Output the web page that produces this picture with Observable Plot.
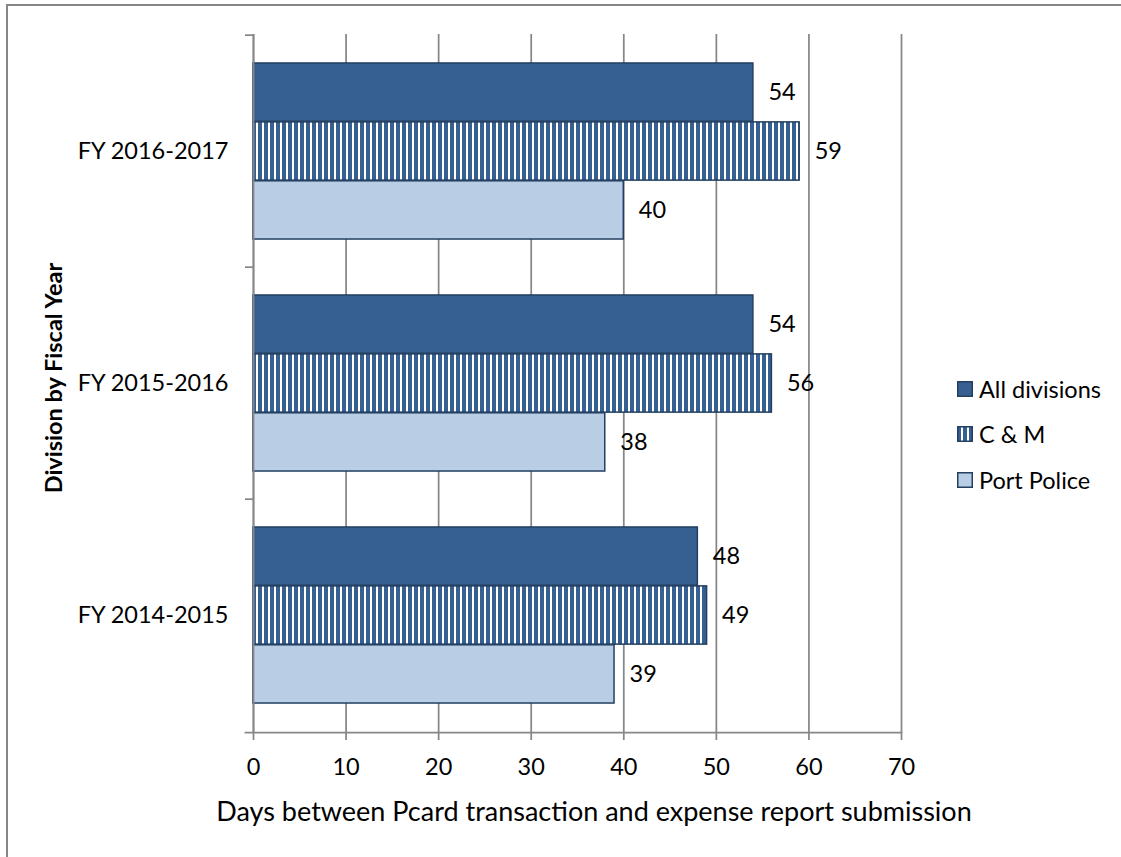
<!DOCTYPE html>
<html>
<head>
<meta charset="utf-8">
<script src="https://cdn.jsdelivr.net/npm/d3@7"></script>
<script src="https://cdn.jsdelivr.net/npm/@observablehq/plot@0.6"></script>
<style>
  html, body { margin: 0; padding: 0; background: #fff; overflow: hidden; }
  body { width: 1121px; height: 857px; position: relative; font-family: Lato, "Open Sans", sans-serif; color: #000; }
  #border { position: absolute; left: 6px; top: 4px; width: 1140px; height: 880px;
            border-left: 2px solid #868686; border-top: 2px solid #868686; }
  #chart { position: absolute; left: 0; top: 0; }
  .xtitle { position: absolute; left: 594px; top: 810px; transform: translate(-50%, -50%);
            white-space: nowrap; font-size: 27px; }
  .ytitle { position: absolute; left: 53px; top: 378px; transform: translate(-50%, -50%) rotate(-90deg);
            white-space: nowrap; font-size: 23.5px; font-weight: bold; }
  .legend { position: absolute; left: 957px; top: 0; }
  .legend .item { position: absolute; left: 0; display: flex; align-items: center; white-space: nowrap;
                  font-size: 23.5px; transform: translateY(-50%); }
  .legend svg { display: block; margin-right: 6px; }
</style>
</head>
<body>
<div id="border"></div>
<div id="chart"></div>
<div class="ytitle">Division by Fiscal Year</div>
<div class="xtitle">Days between Pcard transaction and expense report submission</div>
<div class="legend" id="legend"></div>
<script>
// Fiscal years, top to bottom
const years = ["FY 2016-2017", "FY 2015-2016", "FY 2014-2015"];
// Series shown within each fiscal year
const series = ["All divisions", "C & M", "Port Police"];
// Days between Pcard transaction and expense report submission
const allDivisions = [54, 54, 48];
const cAndM = [59, 56, 49];
const portPolice = [40, 38, 39];
// x-axis tick values
const xTicks = [0, 10, 20, 30, 40, 50, 60, 70];

const valuesBySeries = {"All divisions": allDivisions, "C & M": cAndM, "Port Police": portPolice};
const rows = years.flatMap((year, i) => series.map(s => ({year, series: s, value: valuesBySeries[s][i]})));

const fills = {"All divisions": "#376092", "C & M": "url(#cm-stripes)", "Port Police": "#b9cde5"};
const edge = "#243f60";
const gray = "#878787";
const font = "Lato, 'Open Sans', sans-serif";
const fontSize = 23.5;

const width = 940, height = 857;
const marginLeft = 253, marginRight = 39, marginTop = 34, marginBottom = 125;
const bandH = (height - marginTop - marginBottom) / years.length;

// Layout of the three bars inside one fiscal-year band
const inner = d3.scaleBand(series, [0, bandH]).paddingInner(0).paddingOuter(0.475);
const bw = inner.bandwidth();

const barMarks = series.map(s => {
  const data = rows.filter(d => d.series === s);
  const top = inner(s);
  return Plot.barX(data, {
    x: "value", y: "year", fill: fills[s], stroke: edge, strokeWidth: 1.5,
    insetTop: top, insetBottom: bandH - top - bw
  });
});

const labelMarks = series.map(s => {
  const data = rows.filter(d => d.series === s);
  return Plot.text(data, {
    x: "value", y: "year", text: d => String(d.value),
    textAnchor: "start", dx: 15, dy: inner(s) + bw / 2 - bandH / 2,
    fontSize, fill: "#000"
  });
});

const chart = Plot.plot({
  width, height, marginLeft, marginRight, marginTop, marginBottom,
  style: {fontFamily: font, fontSize: fontSize + "px", color: "#000", background: "transparent"},
  x: {domain: [0, 70]},
  y: {domain: years, padding: 0},
  marks: [
    Plot.ruleX(xTicks, {stroke: gray, strokeWidth: 1.75}),
    ...barMarks,
    Plot.ruleX([0], {stroke: gray, strokeWidth: 1.75}),
    Plot.frame({anchor: "bottom", insetLeft: -8, stroke: gray, strokeWidth: 1.75}),
    Plot.axisX({ticks: xTicks, tickSize: 8, tickPadding: 18, stroke: gray, strokeWidth: 1.75,
                fill: "#000", fontSize, label: null}),
    Plot.axisY({tickSize: 0, tickPadding: 25, fill: "#000", fontSize, label: null}),
    Plot.axisY({tickSize: 8, tickFormat: () => "", dy: -bandH / 2, stroke: gray, strokeWidth: 1.75, label: null}),
    ...labelMarks
  ]
});

d3.select(chart).insert("defs", ":first-child").html(
  '<pattern id="cm-stripes" patternUnits="userSpaceOnUse" width="6" height="6">' +
  '<rect width="6" height="6" fill="#376092"/><rect x="4" width="2" height="6" fill="#fff"/></pattern>'
);
document.getElementById("chart").appendChild(chart);

// Legend to the right of the plot
const legendRows = [389, 434, 480];
const legend = d3.select("#legend");
series.forEach((s, i) => {
  const item = legend.append("div").attr("class", "item").style("top", legendRows[i] + "px");
  const sw = item.append("svg").attr("width", 16).attr("height", 16);
  sw.append("rect").attr("x", 0.75).attr("y", 0.75).attr("width", 14.5).attr("height", 14.5)
    .attr("fill", fills[s]).attr("stroke", edge).attr("stroke-width", 1.5);
  item.append("span").text(s);
});
</script>
</body>
</html>
